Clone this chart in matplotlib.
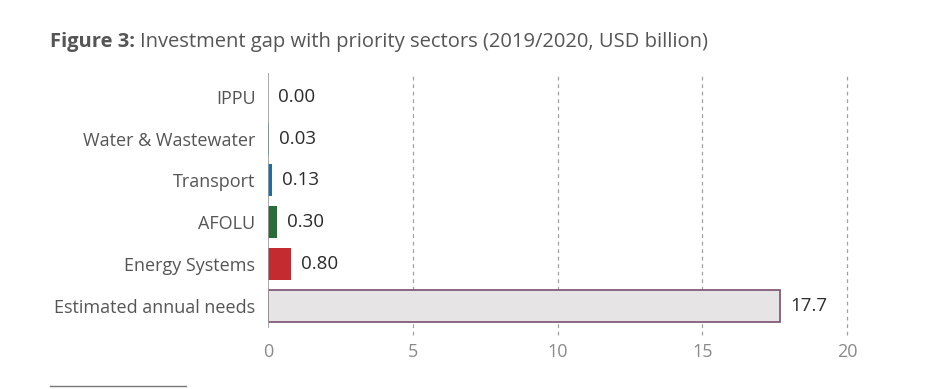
import matplotlib
matplotlib.use("Agg")
import matplotlib.pyplot as plt

plt.rcParams['font.family'] = ['Open Sans', 'DejaVu Sans']

sectors = ['Estimated annual needs', 'Energy Systems', 'AFOLU', 'Transport',
           'Water & Wastewater', 'IPPU']
values = [17.7, 0.80, 0.30, 0.13, 0.03, 0.00]
labels = ['17.7', '0.80', '0.30', '0.13', '0.03', '0.00']
colors = ['#e6e4e5', '#c42b30', '#2a6b3a', '#1570b0', '#1570b0', '#1570b0']
edges = ['#7b4f6e', 'none', 'none', 'none', 'none', 'none']
xticks = [0, 5, 10, 15, 20]

fig = plt.figure(figsize=(9.52, 3.89), dpi=100)
ax = fig.add_axes([268/952, 54/389, (847-268)/952, (316-54)/389])

pos = list(range(len(sectors)))
ax.barh(pos, values, height=0.77, color=colors, edgecolor=edges, linewidth=1.2)
for p, v, l in zip(pos, values, labels):
    ax.text(v + 0.35, p, l, va='center', ha='left', fontsize=13.5, color='#2a2a2a')

ax.set_xlim(0, 20)
ax.set_ylim(-0.7, 5.57)
ax.set_yticks(pos)
ax.set_yticklabels(sectors, fontsize=13, color='#555555')
ax.set_xticks(xticks)
ax.set_xticklabels([str(x) for x in xticks], fontsize=13, color='#8a8a8a')
ax.tick_params(length=0)
ax.tick_params(axis='y', pad=9)
ax.tick_params(axis='x', pad=6)
for x in xticks[1:]:
    ax.axvline(x, ymax=1.0, color='#a0a0a0', linestyle=(0, (3, 3)), linewidth=0.9,
               zorder=0, clip_on=False)
ax.axvline(0, ymin=0.03, color='#9a9a9a', linewidth=1.2, zorder=3)
for s in ax.spines.values():
    s.set_visible(False)

t = fig.text(50/952, 1 - 42/389, 'Figure 3:', fontsize=14.5, color='#555555',
             va='center', fontweight='bold')
fig.canvas.draw()
bb = t.get_window_extent()
fig.text(bb.x1 / 952 + 0.005, 1 - 42/389,
         'Investment gap with priority sectors (2019/2020, USD billion)',
         fontsize=14.5, color='#555555', va='center')
fig.add_artist(plt.Line2D([50/952, 186/952], [1 - 386/389] * 2, color='#777777', linewidth=1))

fig.savefig('out.png', dpi=100)
